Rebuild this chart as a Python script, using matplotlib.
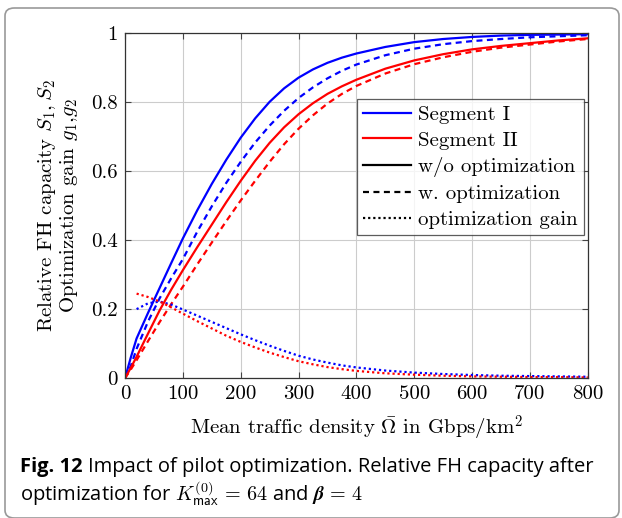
import numpy as np
import matplotlib
matplotlib.use('Agg')
import matplotlib.pyplot as plt
from matplotlib.patches import FancyBboxPatch
from matplotlib.lines import Line2D

plt.rcParams['font.family'] = 'serif'
plt.rcParams['font.serif'] = ['cmr10']
plt.rcParams['mathtext.fontset'] = 'cm'
plt.rcParams['axes.formatter.use_mathtext'] = True

# mean traffic density (Gbps/km^2)
omega = [0, 10, 20, 40, 60, 80, 100, 125, 150, 175, 200, 225, 250, 275, 300,
         325, 350, 375, 400, 450, 500, 550, 600, 650, 700, 750, 800]

# relative FH capacity, segment I
s1_wo = [0, 0.06, 0.115, 0.19, 0.262, 0.334, 0.405, 0.487, 0.563, 0.633, 0.697,
         0.753, 0.801, 0.84, 0.871, 0.895, 0.914, 0.929, 0.941, 0.960, 0.974,
         0.983, 0.989, 0.993, 0.995, 0.996, 0.997]
s1_w = [0, 0.035, 0.085, 0.165, 0.232, 0.29, 0.345, 0.425, 0.498, 0.566, 0.627,
        0.683, 0.732, 0.775, 0.812, 0.843, 0.869, 0.891, 0.909, 0.936, 0.955,
        0.968, 0.977, 0.983, 0.988, 0.991, 0.994]
# relative FH capacity, segment II
s2_wo = [0, 0.03, 0.062, 0.13, 0.197, 0.257, 0.313, 0.38, 0.445, 0.51, 0.572,
         0.63, 0.682, 0.727, 0.765, 0.797, 0.824, 0.846, 0.865, 0.897, 0.921,
         0.939, 0.953, 0.963, 0.971, 0.979, 0.985]
s2_w = [0, 0.025, 0.052, 0.108, 0.163, 0.215, 0.265, 0.33, 0.393, 0.455, 0.515,
        0.572, 0.627, 0.678, 0.723, 0.762, 0.796, 0.824, 0.847, 0.883, 0.91,
        0.93, 0.946, 0.958, 0.967, 0.976, 0.983]

# optimization gain (starts at 20)
omega_g = omega[2:]
g1 = [0.20, 0.217, 0.222, 0.213, 0.199, 0.181, 0.163, 0.145, 0.127, 0.11,
      0.094, 0.079, 0.065, 0.054, 0.045, 0.037, 0.031, 0.022, 0.016, 0.012,
      0.009, 0.007, 0.006, 0.005, 0.004]
g2 = [0.245, 0.235, 0.222, 0.205, 0.187, 0.165, 0.144, 0.123, 0.105, 0.089,
      0.074, 0.061, 0.049, 0.04, 0.032, 0.026, 0.021, 0.014, 0.01, 0.007,
      0.005, 0.004, 0.003, 0.003, 0.002]

xticks = [0, 100, 200, 300, 400, 500, 600, 700, 800]
yticks = [0, 0.2, 0.4, 0.6, 0.8, 1]
ytick_labels = ['0', '0.2', '0.4', '0.6', '0.8', '1']

blue = '#0000ff'
red = '#ff0000'
lw = 1.6
dash = (0, (2.7, 2.0))
dot = (0, (1, 1.3))

fig = plt.figure(figsize=(6.22, 5.18), dpi=100)
ax = fig.add_axes([0.201, 0.270, 0.744, 0.666])

ax.plot(omega, s1_wo, color=blue, lw=lw)
ax.plot(omega, s1_w, color=blue, lw=lw, linestyle=dash)
ax.plot(omega, s2_wo, color=red, lw=lw)
ax.plot(omega, s2_w, color=red, lw=lw, linestyle=dash)
ax.plot(omega_g, g1, color=blue, lw=lw, linestyle=dot)
ax.plot(omega_g, g2, color=red, lw=lw, linestyle=dot)

ax.set_xlim(0, 800)
ax.set_ylim(0, 1)
ax.set_xticks(xticks)
ax.set_xticklabels([str(t) for t in xticks])
ax.set_yticks(yticks)
ax.set_yticklabels(ytick_labels)
ax.tick_params(direction='in', length=4, width=0.8, labelsize=15, pad=5,
               top=True, right=True, color='#444444')
ax.grid(True, color='#cccccc', lw=0.8)
ax.set_axisbelow(True)
for sp in ax.spines.values():
    sp.set_color('#333333')
    sp.set_linewidth(0.9)

ax.set_xlabel(r'Mean traffic density $\bar{\Omega}$ in Gbps/km$^2$', fontsize=15, labelpad=8)
ax.set_ylabel('Relative FH capacity $S_1, S_2$\nOptimization gain $g_1$,$g_2$',
              fontsize=15, labelpad=8, linespacing=1.0)

handles = [Line2D([], [], color=blue, lw=lw),
           Line2D([], [], color=red, lw=lw),
           Line2D([], [], color='black', lw=lw),
           Line2D([], [], color='black', lw=lw, linestyle=dash),
           Line2D([], [], color='black', lw=lw, linestyle=dot)]
labels = ['Segment I', 'Segment II', 'w/o optimization', 'w. optimization', 'optimization gain']
leg = ax.legend(handles, labels, loc='upper left', bbox_to_anchor=(0.501, 0.809),
                fontsize=15, frameon=True, fancybox=False, handlelength=2.3,
                handletextpad=0.35, labelspacing=0.35, borderpad=0.3,
                borderaxespad=0)
leg.get_frame().set_edgecolor('#333333')
leg.get_frame().set_linewidth(0.9)

# figure frame with rounded corners
frame = FancyBboxPatch((5 / 622, 0.0), 614 / 622, 1 - 8 / 518,
                       boxstyle='round,pad=0,rounding_size=0.015',
                       transform=fig.transFigure, fill=False,
                       edgecolor='#999999', lw=1.2)
fig.patches.append(frame)

cap_font = ['Open Sans', 'DejaVu Sans']
fig.text(20 / 622, 1 - 467 / 518, 'Fig. 12', fontsize=14.5, fontweight='bold',
         family=cap_font, va='center', ha='left')
fig.text(88 / 622, 1 - 467 / 518, 'Impact of pilot optimization. Relative FH capacity after',
         fontsize=14.5, family=cap_font, va='center', ha='left')
fig.text(20 / 622, 1 - 494 / 518,
         r'optimization for $K_{\mathsf{max}}^{(0)}\,=\,64$ and $\boldsymbol{\beta}\,=\,4$',
         fontsize=14.5, family=cap_font, va='center', ha='left')

fig.savefig('out.png', dpi=100)
